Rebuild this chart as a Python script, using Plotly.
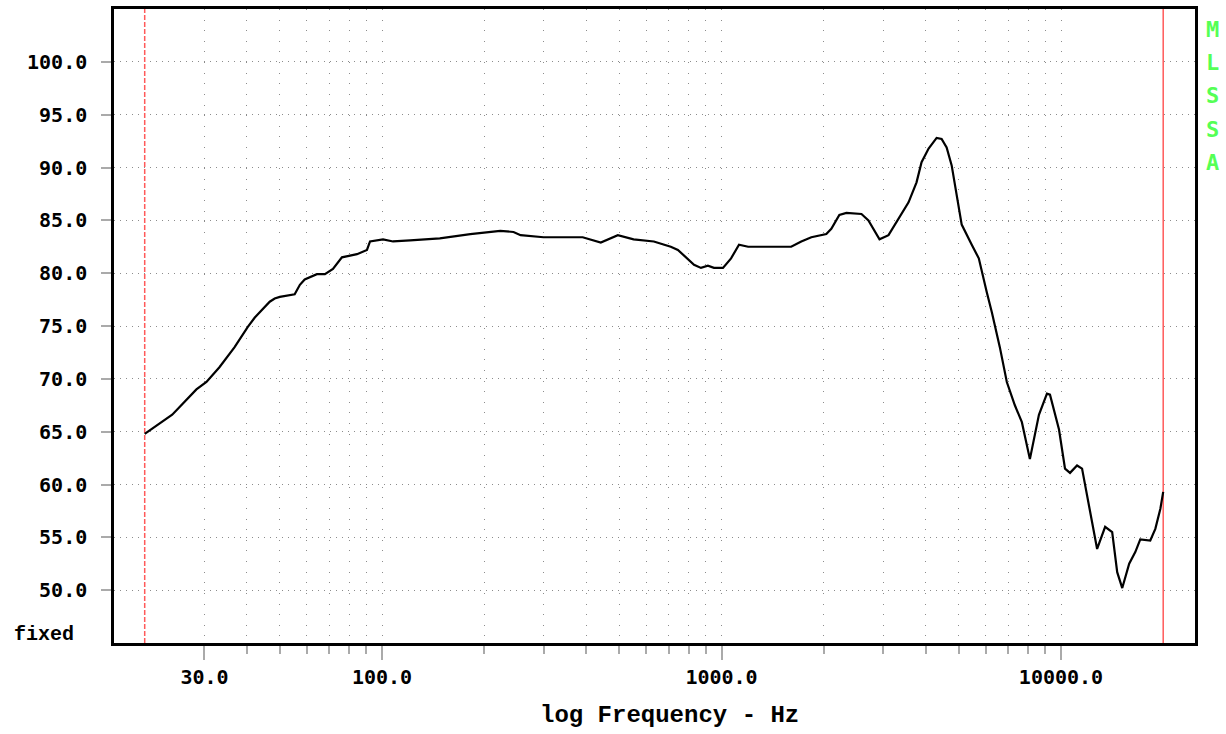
import plotly.graph_objects as go

# ---- data ----
freq_hz = [20, 22.5, 24.1, 25.3, 28.4, 30.4, 33.2, 36.8, 40.2, 42.2,
           44.2, 46.7, 48.3, 50.0, 55.3, 57.3, 59.2, 64.3, 67.9, 71.7,
           76.2, 84.4, 90.3, 92.2, 100.7, 107.8, 121, 148, 182, 208,
           223, 244, 256, 299, 390, 441, 495, 551, 632, 709,
           744, 830, 870, 912, 950, 1010, 1067, 1126, 1198, 1604,
           1718, 1839, 2036, 2106, 2224, 2333, 2584, 2709, 2920, 3104,
           3322, 3556, 3754, 3884, 4074, 4302, 4450, 4604, 4764, 4929,
           5099, 5459, 5726, 6045, 6256, 6604, 6925, 7313, 7669, 8098,
           8610, 9091, 9280, 9865, 10276, 10631, 11150, 11535, 12180, 12775,
           13490, 14150, 14640, 15150, 15880, 16550, 17120, 18320, 18960, 19620,
           20000]
spl_db = [64.8, 65.9, 66.6, 67.3, 69.0, 69.7, 71.1, 73.0, 74.9, 75.8,
          76.5, 77.3, 77.6, 77.75, 78.0, 78.9, 79.4, 79.9, 79.9, 80.4,
          81.5, 81.8, 82.2, 83.0, 83.2, 83.0, 83.1, 83.3, 83.7, 83.9,
          84.0, 83.9, 83.6, 83.4, 83.4, 82.9, 83.6, 83.2, 83.0, 82.5,
          82.2, 80.8, 80.5, 80.7, 80.5, 80.5, 81.4, 82.7, 82.5, 82.5,
          83.0, 83.4, 83.7, 84.2, 85.5, 85.7, 85.6, 85.0, 83.2, 83.6,
          85.1, 86.7, 88.6, 90.5, 91.8, 92.8, 92.7, 91.9, 90.2, 87.4,
          84.6, 82.7, 81.4, 78.2, 76.3, 73.0, 69.7, 67.5, 65.9, 62.4,
          66.6, 68.6, 68.5, 65.2, 61.5, 61.1, 61.8, 61.5, 57.4, 53.9,
          56.0, 55.5, 51.7, 50.2, 52.5, 53.6, 54.8, 54.7, 55.8, 57.7,
          59.3]

x_major_vals = [30, 100, 1000, 10000]
x_major_text = ["30.0", "100.0", "1000.0", "10000.0"]
x_minor_vals = [40, 50, 60, 70, 80, 90,
                200, 300, 400, 500, 600, 700, 800, 900,
                2000, 3000, 4000, 5000, 6000, 7000, 8000, 9000]
y_tick_vals = [50, 55, 60, 65, 70, 75, 80, 85, 90, 95, 100]
y_tick_text = ["%.1f" % v for v in y_tick_vals]

f_low, f_high = 20, 20000
y_min, y_max = 45, 105
x_log_range = [1.2106, 4.3947]
banner = ["M", "L", "S", "S", "A"]

RED = "#ff5a5a"
GREEN = "#55ff55"
GRID = "#8c8c8c"

fig = go.Figure()
fig.add_trace(go.Scatter(x=[f_low, f_low], y=[y_min, y_max], mode="lines",
                         line=dict(color=RED, width=1.5, dash="5px,2px"),
                         hoverinfo="skip"))
fig.add_trace(go.Scatter(x=[f_high, f_high], y=[y_min, y_max], mode="lines",
                         line=dict(color=RED, width=1.5), hoverinfo="skip"))
fig.add_trace(go.Scatter(x=freq_hz, y=spl_db, mode="lines",
                         line=dict(color="black", width=2.2)))

tickfont = dict(family="DejaVu Sans Mono", size=20, color="black", weight="bold")
plot_h = 637
px_per_db = plot_h / (y_max - y_min)

fig.update_xaxes(type="log", range=x_log_range,
                 tickmode="array", tickvals=x_major_vals, ticktext=x_major_text,
                 ticks="outside", ticklen=14, tickwidth=2, tickcolor="#aaaaaa",
                 tickfont=tickfont,
                 showgrid=True, gridcolor=GRID, gridwidth=1.2,
                 griddash="1px,%.3fpx" % (px_per_db - 1),
                 minor=dict(tickmode="array", tickvals=x_minor_vals,
                            ticks="outside", ticklen=8, tickwidth=2,
                            tickcolor="#aaaaaa", showgrid=True,
                            gridcolor=GRID, gridwidth=1.2,
                            griddash="1px,%.3fpx" % (px_per_db - 1)),
                 showline=True, mirror=True, linecolor="black", linewidth=2.5,
                 zeroline=False)
fig.update_yaxes(range=[y_min, y_max],
                 tickmode="array", tickvals=y_tick_vals, ticktext=y_tick_text,
                 ticks="outside", ticklen=10, tickwidth=2, tickcolor="#aaaaaa",
                 tickfont=tickfont, ticklabelstandoff=10,
                 showgrid=True, gridcolor=GRID, gridwidth=1.2, griddash="1px,5px",
                 showline=True, mirror=True, linecolor="black", linewidth=2.5,
                 zeroline=False)

annotations = [
    dict(text="fixed", xref="paper", yref="paper", x=-0.0944, y=0.014,
         xanchor="left", yanchor="middle", showarrow=False,
         font=dict(family="Liberation Mono", size=20, color="black", weight="bold")),
    dict(text="log Frequency - Hz", xref="paper", yref="paper", x=0.514, y=-0.1146,
         xanchor="center", yanchor="middle", showarrow=False,
         font=dict(family="Liberation Mono", size=24, color="black", weight="bold")),
]
letter_y_px = [27, 60, 93, 127, 160]
for ch, ypx in zip(banner, letter_y_px):
    annotations.append(dict(text=ch, xref="paper", yref="paper",
                            x=(1212 - 114) / 1081, y=(643 - ypx) / plot_h,
                            xanchor="center", yanchor="middle", showarrow=False,
                            font=dict(family="DejaVu Sans Mono", size=22,
                                      color=GREEN, weight="bold")))

fig.update_layout(width=1226, height=734,
                  margin=dict(l=114, r=31, t=6, b=91, pad=0),
                  paper_bgcolor="white", plot_bgcolor="white",
                  showlegend=False, hovermode=False,
                  annotations=annotations)

fig.write_html("out.html",
               config={"displayModeBar": False},
               post_script="document.body.style.margin='0px';"
                           "document.body.style.overflow='hidden';")
